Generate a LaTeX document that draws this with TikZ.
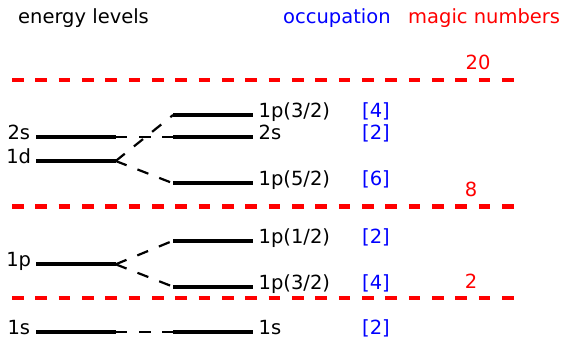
\documentclass[tikz,border=0pt]{standalone}
\usepackage{fontspec}
\setmainfont{DejaVu Sans}
\usetikzlibrary{positioning}

\begin{document}
\begin{tikzpicture}[
				x=1pt,y=-1pt,
				font=\fontsize{19.5pt}{23pt}\selectfont,
				every node/.style={inner sep=0pt},
				level/.style={
					fill=black,
					inner sep=0pt,
					minimum width=80pt,
					minimum height=4pt
				},
				split/.style={dash pattern=on 11.67pt off 11.67pt,line width=2.2pt},
				shell/.style={red,dash pattern=on 11.67pt off 11.67pt,line width=4.5pt},
				occ/.style={blue,anchor=base west,yshift=-2.5pt},
				magic/.style={red,anchor=base}
				]
				\useasboundingbox (0,0) rectangle (564,337);
				
				\node[anchor=base west] (hlev) at (18,24) {energy levels};
				\node[anchor=base west,blue] (hocc) at (283,24) {occupation};
				\node[anchor=base west,red] (hmag) at (408,24) {magic numbers};
				
				% levels without spin-orbit
				\node[level] (s2) at (75.5,137.3) {};
				\node[level] (d1) at (75.5,161) {};
				\node[level] (p1) at (75.5,264.3) {};
				\node[level] (s1) at (75.5,332.3) {};
				\node[anchor=base east] at ([shift={(-5,2.5)}]s2.west) {2s};
				\node[anchor=base east] at ([shift={(-4,2.5)}]d1.west) {1d};
				\node[anchor=base east] at ([shift={(-4,2.5)}]p1.west) {1p};
				\node[anchor=base east] at ([shift={(-5,2.5)}]s1.west) {1s};
				
				% levels with spin-orbit
				\node[level] (d32) at (213.3,115) {};
				\node[level] (s2r) at (213.3,137.3) {};
				\node[level] (d52) at (213.3,183.3) {};
				\node[level] (p12) at (213.3,240.7) {};
				\node[level] (p32) at (213.3,286.7) {};
				\node[level] (s1r) at (213.3,332.3) {};
				\node[anchor=base west] at ([shift={(5,2.5)}]d32.east) {1p(3/2)};
				\node[anchor=base west] at ([shift={(5,2.5)}]s2r.east) {2s};
				\node[anchor=base west] at ([shift={(5,2.5)}]d52.east) {1p(5/2)};
				\node[anchor=base west] at ([shift={(5,2.5)}]p12.east) {1p(1/2)};
				\node[anchor=base west] at ([shift={(5,2.5)}]p32.east) {1p(3/2)};
				\node[anchor=base west] at ([shift={(5,2.5)}]s1r.east) {1s};
				
				\node[occ] at (362,0 |- d32.east) {[4]};
				\node[occ] at (362,0 |- s2r.east) {[2]};
				\node[occ] at (362,0 |- d52.east) {[6]};
				\node[occ] at (362,0 |- p12.east) {[2]};
				\node[occ] at (362,0 |- p32.east) {[4]};
				\node[occ] at (362,0 |- s1r.east) {[2]};
				
				\draw[split] (s2.east) -- (s2r.west);
				\draw[split] (d1.east) -- (d32.west);
				\draw[split] (d1.east) -- (d52.west);
				\draw[split] (p1.east) -- (p12.west);
				\draw[split] (p1.east) -- (p32.west);
				\draw[split] (s1.east) -- (s1r.west);
				
				% shell closures
				\coordinate (c20a) at (12,80);
				\coordinate (c20b) at (514,80);
				\coordinate (c8a) at (12,206.5);
				\coordinate (c8b) at (514,206.5);
				\coordinate (c2a) at (12,298);
				\coordinate (c2b) at (514,298);
				\draw[shell] (c20a) -- (c20b);
				\draw[shell] (c8a) -- (c8b);
				\draw[shell] (c2a) -- (c2b);
				\node[magic] at (478,70) {20};
				\node[magic] at (471,196) {8};
				\node[magic] at (471,288) {2};
			\end{tikzpicture}
\end{document}
